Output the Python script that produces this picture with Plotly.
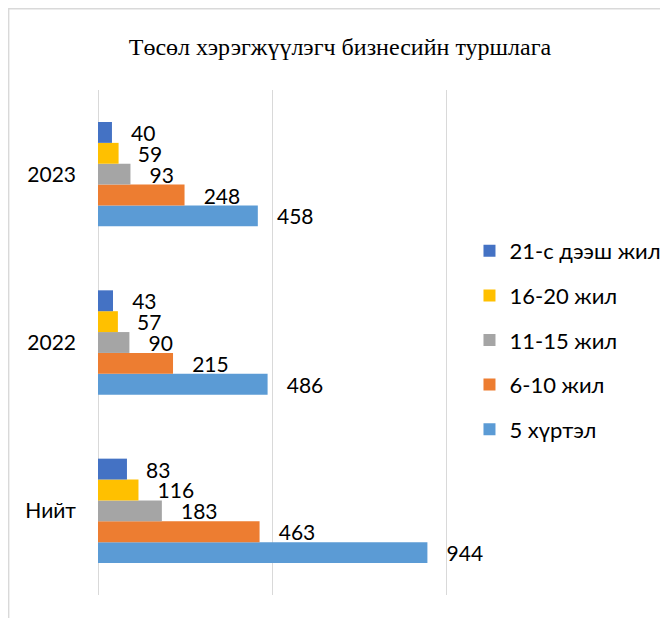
import plotly.graph_objects as go

categories = ["Нийт", "2022", "2023"]
series_names = ["5 хүртэл", "6-10 жил", "11-15 жил", "16-20 жил", "21-с дээш жил"]
v_5 = [944, 486, 458]
v_6_10 = [463, 215, 248]
v_11_15 = [183, 90, 93]
v_16_20 = [116, 57, 59]
v_21 = [83, 43, 40]
series_values = [v_5, v_6_10, v_11_15, v_16_20, v_21]
colors = ["#5B9BD5", "#ED7D31", "#A5A5A5", "#FFC000", "#4472C4"]

W, H = 668, 618
XMAX = 1003
L, T = 90, 82
pw = 348.5 * XMAX / 1000
ph = 505
R = W - L - pw
B = H - T - ph

FONT = "Lato, Open Sans, sans-serif"

fig = go.Figure()
n = len(series_names)
for i, (name, vals, col) in enumerate(zip(series_names, series_values, colors)):
    fig.add_trace(go.Bar(
        y=categories, x=vals, name=name, orientation="h",
        marker=dict(color=col, line=dict(width=0)),
        text=vals, texttemplate="   %{x}", textposition="outside",
        constraintext="none",
        cliponaxis=False, legendgroup=name, legendrank=n - i,
        textfont=dict(family=FONT, size=21, color="#000000"),
    ))

def px_x(p):
    return (p - L) / pw

def px_y(p):
    return (H - B - p) / ph

fig.update_layout(
    width=W, height=H,
    margin=dict(l=L, r=R, t=T, b=B, autoexpand=False),
    paper_bgcolor="white", plot_bgcolor="white",
    barmode="group", bargap=0.38, bargroupgap=0,
    title=dict(text="Төсөл хэрэгжүүлэгч бизнесийн туршлага",
               font=dict(family="Liberation Serif, Times New Roman, serif", size=24, color="#000"),
               x=332 / W, xref="container", xanchor="center",
               y=1 - 39 / H, yref="container", yanchor="middle"),
    xaxis=dict(range=[0, XMAX], tickvals=[0, 500, 1000], showticklabels=False, showgrid=True,
               gridcolor="#D9D9D9", gridwidth=1, zeroline=True, zerolinecolor="#D9D9D9",
               zerolinewidth=1, showline=False, fixedrange=True),
    yaxis=dict(categoryorder="array", categoryarray=categories, showgrid=False,
               ticks="", ticklabelstandoff=21, showline=False,
               tickfont=dict(family=FONT, size=21, color="#000")),
    legend=dict(traceorder="grouped", x=px_x(461), xanchor="left",
                y=px_y(222), yanchor="top", tracegroupgap=13,
                font=dict(family=FONT, size=22, color="#000"),
                bgcolor="rgba(0,0,0,0)"),
    showlegend=True,
    shapes=[
        dict(type="line", xref="paper", yref="paper", x0=px_x(0), x1=px_x(700),
             y0=px_y(0.75), y1=px_y(0.75), line=dict(color="#D9D9D9", width=1.5)),
        dict(type="line", xref="paper", yref="paper", x0=px_x(0.75), x1=px_x(0.75),
             y0=px_y(0), y1=px_y(640), line=dict(color="#D9D9D9", width=1.5)),
    ],
)

fig.write_html("out.html")
